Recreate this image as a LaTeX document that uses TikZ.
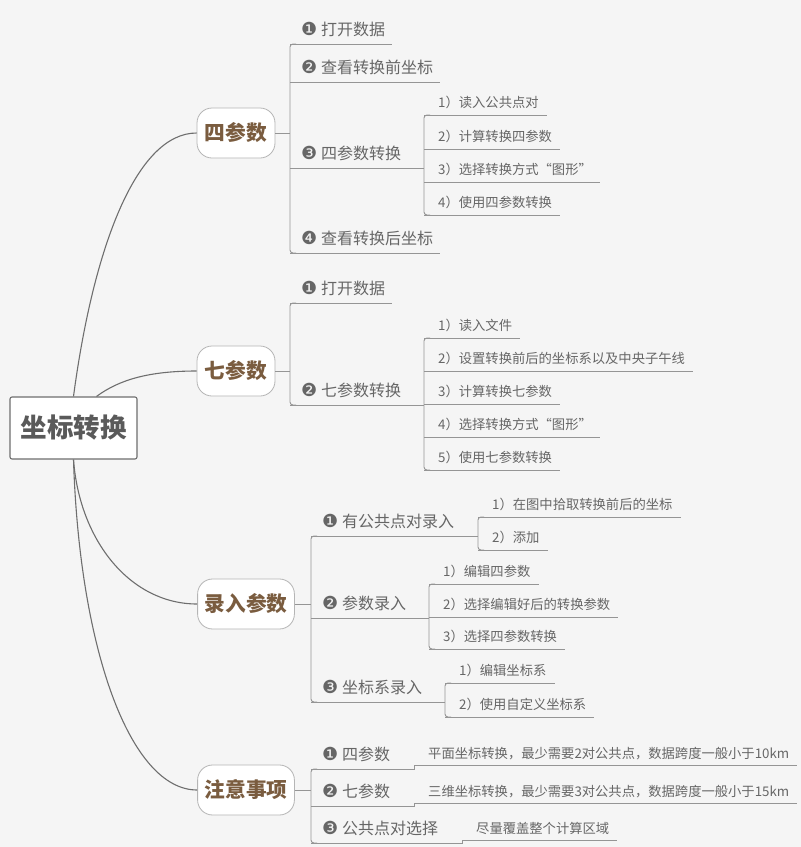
\documentclass[tikz,border=0pt]{standalone}
\usepackage{fontspec}
\setmainfont{Noto Sans CJK SC}
\newfontfamily\dejavu{DejaVu Sans}
\definecolor{bg}{HTML}{F5F5F5}
\definecolor{trunkgray}{HTML}{6E6E6E}
\definecolor{brgray}{HTML}{959595}
\definecolor{txtgray}{HTML}{666666}
\definecolor{rootgray}{HTML}{5A5A5A}
\definecolor{topicbrown}{HTML}{7A5C3F}
\newcommand{\ci}[1]{\makebox[12pt][c]{\dejavu\fontsize{18}{18}\selectfont#1}\hspace*{6pt}}
\begin{document}
\begin{tikzpicture}[x=1pt, y=-1pt,
  trunk/.style={draw=trunkgray, line width=1.1pt},
  branch/.style={draw=brgray, line width=0.9pt},
  rootbox/.style={draw=trunkgray, fill=white, line width=1.1pt, rounded corners=2pt,
    minimum width=127pt, minimum height=62pt, text=rootgray,
    font=\fontsize{26.5}{26.5}\selectfont\bfseries},
  topic/.style={draw=brgray!70, fill=white, line width=0.8pt, rounded corners=15pt,
    minimum width=78pt, minimum height=50pt, inner xsep=7pt, text=topicbrown,
    font=\fontsize{20.7}{20.7}\selectfont\bfseries},
  uline/.style={anchor=south west, inner xsep=0pt, text depth=0pt, text=txtgray,
    append after command={(\tikzlastnode.south west) edge[branch] (\tikzlastnode.south east)}},
  item/.style={uline, inner ysep=8pt, font=\fontsize{16}{16}\selectfont,
    execute at begin node=\hspace*{13pt}, execute at end node=\hspace*{7pt}},
  subitem/.style={uline, inner ysep=7pt, font=\fontsize{13.3}{13.3}\selectfont,
    execute at begin node=\hspace*{14pt}, execute at end node=\hspace*{8pt}},
  wide/.style={execute at end node=\hspace*{13pt}}]

\fill[bg] (0,0) rectangle (801,847);
\useasboundingbox (0,0) rectangle (801,847);

% root and main topics
\node[rootbox] (root) at (73.5,428) {坐标转换};
\node[topic] (t1) at (236,133) {四参数};
\node[topic] (t2) at (236,371) {七参数};
\node[topic] (t3) at (246,604) {录入参数};
\node[topic] (t4) at (246,790) {注意事项};

\draw[trunk] (root.north) .. controls +(20,-150) and +(-60,0) .. (t1.west);
\draw[trunk] ([xshift=23pt]root.north) .. controls +(23,-17) and +(-47,0) .. (t2.west);
\draw[trunk] (root.south) .. controls +(6,81) and +(-67,0) .. (t3.west);
\draw[trunk] (root.south) .. controls +(6,190) and +(-67,0) .. (t4.west);

% 四参数
\node[item] (a1) at (290,44) {\ci{❶}打开数据};
\node[item] (a2) at (290,82) {\ci{❷}查看转换前坐标};
\node[item] (a3) at (290,168) {\ci{❸}四参数转换};
\node[item] (a4) at (290,253) {\ci{❹}查看转换后坐标};
\node[subitem] (b1) at (424,115) {1）读入公共点对};
\node[subitem] (b2) at (424,149) {2）计算转换四参数};
\node[subitem] (b3) at (424,182) {3）选择转换方式“图形”};
\node[subitem] (b4) at (424,215) {4）使用四参数转换};
\draw[branch] (t1.east) -- (t1.east -| a1.south west);
\draw[branch, rounded corners=3pt] ([xshift=6pt]a1.south west) -- (a1.south west) -- (a4.south west) -- ([xshift=6pt]a4.south west);
\draw[branch] (a3.south east) -- (a3.south east -| b1.south west);
\draw[branch, rounded corners=3pt] ([xshift=6pt]b1.south west) -- (b1.south west) -- (b4.south west) -- ([xshift=6pt]b4.south west);

% 七参数
\node[item] (c1) at (290,303) {\ci{❶}打开数据};
\node[item] (c2) at (290,405) {\ci{❷}七参数转换};
\node[subitem] (d1) at (424,338) {1）读入文件};
\node[subitem] (d2) at (424,371) {2）设置转换前后的坐标系以及中央子午线};
\node[subitem] (d3) at (424,404) {3）计算转换七参数};
\node[subitem] (d4) at (424,437) {4）选择转换方式“图形”};
\node[subitem] (d5) at (424,470) {5）使用七参数转换};
\draw[branch] (t2.east) -- (t2.east -| c1.south west);
\draw[branch, rounded corners=3pt] ([xshift=6pt]c1.south west) -- (c1.south west) -- (c2.south west) -- ([xshift=6pt]c2.south west);
\draw[branch] (c2.south east) -- (c2.south east -| d1.south west);
\draw[branch, rounded corners=3pt] ([xshift=6pt]d1.south west) -- (d1.south west) -- (d5.south west) -- ([xshift=6pt]d5.south west);

% 录入参数
\node[item] (e1) at (311,536) {\ci{❶}有公共点对录入};
\node[item] (e2) at (311,618) {\ci{❷}参数录入};
\node[item] (e3) at (311,702) {\ci{❸}坐标系录入};
\node[subitem] (f1) at (478,517) {1）在图中拾取转换前后的坐标};
\node[subitem] (f2) at (478,550) {2）添加};
\node[subitem] (g1) at (429,584) {1）编辑四参数};
\node[subitem] (g2) at (429,617) {2）选择编辑好后的转换参数};
\node[subitem] (g3) at (429,649) {3）选择四参数转换};
\node[subitem] (h1) at (445,683) {1）编辑坐标系};
\node[subitem] (h2) at (445,717) {2）使用自定义坐标系};
\draw[branch] (t3.east) -- (t3.east -| e1.south west);
\draw[branch, rounded corners=3pt] ([xshift=6pt]e1.south west) -- (e1.south west) -- (e3.south west) -- ([xshift=6pt]e3.south west);
\draw[branch] (e1.south east) -- (e1.south east -| f1.south west);
\draw[branch, rounded corners=3pt] ([xshift=6pt]f1.south west) -- (f1.south west) -- (f2.south west) -- ([xshift=6pt]f2.south west);
\draw[branch] (e2.south east) -- (e2.south east -| g1.south west);
\draw[branch, rounded corners=3pt] ([xshift=6pt]g1.south west) -- (g1.south west) -- (g3.south west) -- ([xshift=6pt]g3.south west);
\draw[branch] (e3.south east) -- (e3.south east -| h1.south west);
\draw[branch, rounded corners=3pt] ([xshift=6pt]h1.south west) -- (h1.south west) -- (h2.south west) -- ([xshift=6pt]h2.south west);

% 注意事项
\node[item, wide] (n1) at (311,769) {\ci{❶}四参数};
\node[item, wide] (n2) at (311,806) {\ci{❷}七参数};
\node[item, wide] (n3) at (311,843) {\ci{❸}公共点对选择};
\node[subitem, inner ysep=6pt] (p1) at (414,765) {平面坐标转换，最少需要2对公共点，数据跨度一般小于10km};
\node[subitem, inner ysep=6pt] (p2) at (414,803) {三维坐标转换，最少需要3对公共点，数据跨度一般小于15km};
\node[subitem, inner ysep=6pt] (p3) at (462,840) {尽量覆盖整个计算区域};
\draw[branch] (t4.east) -- (t4.east -| n1.south west);
\draw[branch, rounded corners=3pt] ([xshift=6pt]n1.south west) -- (n1.south west) -- (n3.south west) -- ([xshift=6pt]n3.south west);
\draw[branch] (n1.south east) -| (p1.south west);
\draw[branch] (n2.south east) -| (p2.south west);
\draw[branch] (n3.south east) -| (p3.south west);
\end{tikzpicture}
\end{document}
